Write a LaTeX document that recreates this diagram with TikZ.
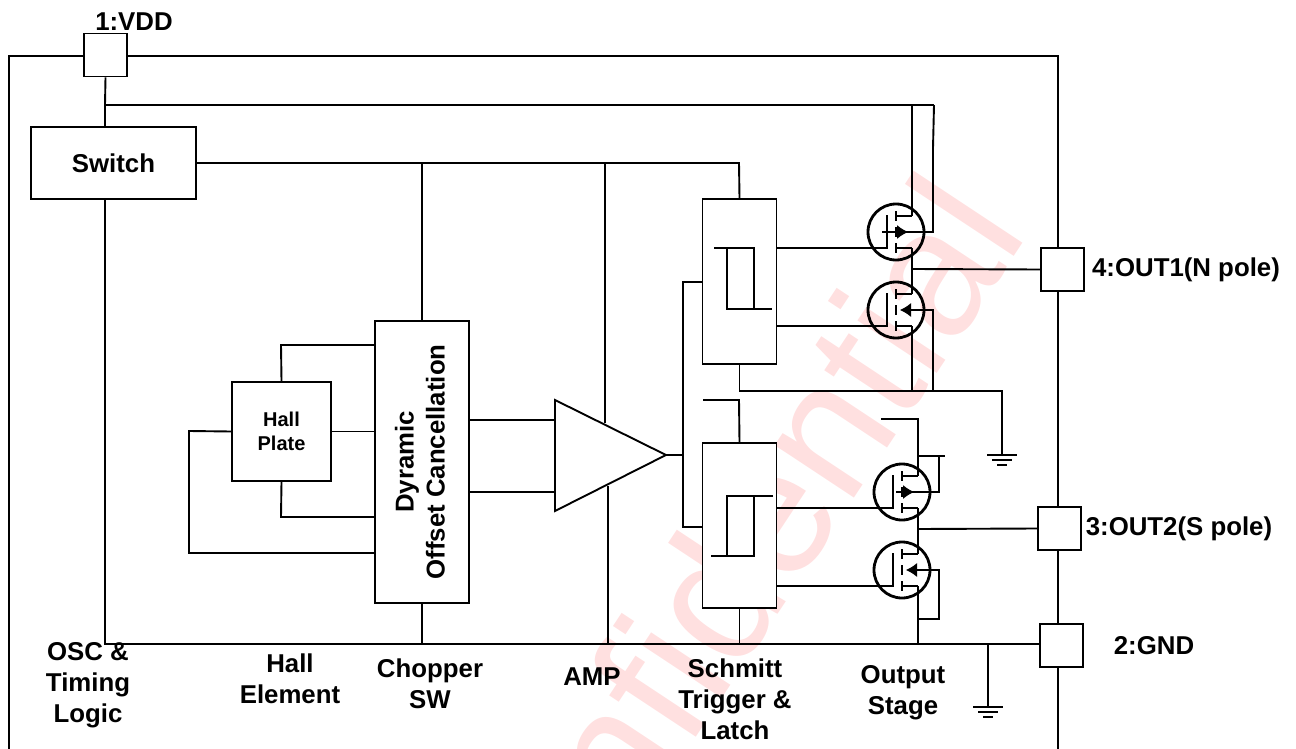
\documentclass[tikz,border=0pt]{standalone}
\usepackage{fontspec}
\setmainfont{Liberation Sans}
\usetikzlibrary{arrows.meta,calc,positioning}
\tikzset{
    blockbox/.style ={rectangle, draw, fill=white, inner sep=0pt, align=center, font=\bfseries\fontsize{25.8}{31}\selectfont},
    pin/.style = {rectangle, draw, fill=white, inner sep=0pt, minimum width=43pt, minimum height=43pt},
    lab/.style = {inner sep=0pt, align=center, font=\bfseries\fontsize{25.8}{31}\selectfont},
    fetbody/.style = {circle, draw, line width=2.8pt, inner sep=0pt, minimum size=56pt},
    fetline/.style = {line width=2.8pt},
    fettip/.style = {line width=1pt,-{Latex[length=11pt,width=14pt]}},
    gnd/.style = {line width=1.9pt}
}
% #1 name, #2 centre, #3 start of arrow, #4 tip of arrow
\newcommand{\fet}[4]{
  \node[fetbody] (#1) at (#2) {};
  \begin{scope}[shift={(#2)}]
    \coordinate (#1-d) at (16,-16);
    \coordinate (#1-s) at (16,16);
    \coordinate (#1-g) at (-36,16);
    \coordinate (#1-b) at (28,0);
    \draw[fetline] (#1-g) -- (-9,16) -- (-9,-17);
    \draw[fetline] (0,-21) -- (0,-11) (0,-5) -- (0,5) (0,11) -- (0,21);
    \draw[fetline] (#1-d) -- (0,-16) (#1-s) -- (0,16);
    \draw[fettip] (#3,0) -- (#4,0);
    \draw[fetline] (#3,0) -- (#1-b);
  \end{scope}
}
% ground symbol under a named coordinate
\newcommand{\gndsym}[1]{
  \draw[gnd] ($(#1)+(-15,0)$) -- ($(#1)+(15,0)$);
  \draw[gnd] ($(#1)+(-10,5)$) -- ($(#1)+(10,5)$);
  \draw[gnd] ($(#1)+(-5,10)$) -- ($(#1)+(5,10)$);
}

\begin{document}
\begin{tikzpicture}[x=1pt,y=-1pt,line width=1.9pt]
    \useasboundingbox (0,0) rectangle (1296,749);
    \clip (0,0) rectangle (1296,749);

    \node[rotate=56.5, text=red!12, font=\fontsize{180}{180}\selectfont, inner sep=0pt] (mark) at (714,594) {Confidential};

    % frame
    \coordinate (fa) at (9,749);
    \coordinate (fb) at (9,56);
    \coordinate (fc) at (1058,56);
    \coordinate (fd) at (1058,749);
    \draw (fa) -- (fb) -- (fc) -- (fd);

    % blocks
    \node[blockbox, minimum width=165pt, minimum height=72pt] (switch) at (113.5,163) {Switch};
    \node[blockbox, minimum width=99pt, minimum height=99pt, font=\bfseries\fontsize{20}{24}\selectfont] (hall) at (281.5,431.5) {Hall\\Plate};
    \node[blockbox, minimum width=94pt, minimum height=282pt] (dyn) at (422,462) {};
    \node[lab, rotate=90] (dyntext) at (420,462) {Dyramic\\Offset Cancellation};
    \node[blockbox, minimum width=74pt, minimum height=165pt] (upper) at (739.5,281.5) {};
    \node[blockbox, minimum width=74pt, minimum height=165pt] (lower) at (739.5,525.5) {};

    % pins
    \node[pin] (vdd) at (105.5,55) {};
    \node[pin] (out1) at (1062.5,269.5) {};
    \node[pin] (out2) at (1059.5,528.5) {};
    \node[pin] (gnd) at (1061.5,645.5) {};

    % amplifier
    \coordinate (ampa) at (555,400);
    \coordinate (ampb) at (555,511);
    \coordinate (ampc) at (666,455);
    \draw (ampa) -- (ampc) -- (ampb) -- cycle;

    % junctions
    \coordinate (vddj) at (105,105);
    \coordinate (supr) at (739,163);
    \coordinate (rail) at (105,644);
    \coordinate (ampj) at (683,455);
    \coordinate (gndj) at (1002,391);
    \coordinate (gnda) at (1002,455);
    \coordinate (gndb) at (988,707);

    % supply and rail
    \draw (vdd.south) -- (vddj) -- (vddj |- switch.north);
    \draw (vddj) -- (934,105);
    \draw (switch.south -| vddj) -- (rail) -- (gnd.west |- rail);
    \draw (switch.east) -- (supr) -- (upper.north);
    \draw (dyn.north) -- (dyn.north |- supr);
    \draw (dyn.south) -- (dyn.south |- rail);
    \draw (605,163) -- (605,423);
    \draw (608,486) -- (608,644);
    \draw (lower.south) -- (lower.south |- rail);
    \draw (upper.south) -- (upper.south |- gndj) -- (gndj) -- (gnda);
    \draw (gndb |- rail) -- (gndb);
    \gndsym{gnda}
    \gndsym{gndb}
    \draw (lower.north) -- (739,400) -- (703,400);

    % hall plate
    \draw (hall.north) -- (281,345) -- (dyn.west |- 281,345);
    \draw (hall.east) -- (dyn.west |- hall.east);
    \draw (hall.south) -- (281,517) -- (dyn.west |- 281,517);
    \draw (hall.west) -- (189,431) -- (189,553) -- (dyn.west |- 189,553);

    % amp
    \draw (dyn.east |- 0,420) -- (555,420);
    \draw (dyn.east |- 0,492) -- (555,492);
    \draw (ampc) -- (ampj);
    \draw (upper.west |- 0,282) -- (683,282) -- (683,527) -- (lower.west |- 0,527);

    % hysteresis
    \draw (714,248) -- (754,248) -- (754,309);
    \draw (727,248) -- (727,309) -- (772,309);
    \draw (773,496) -- (727,496) -- (727,556);
    \draw (754,496) -- (754,556) -- (711,556);

    % output stage
    \fet{qa}{896,232}{1}{12}
    \fet{qb}{896,310}{15}{4}
    \fet{qc}{902,492}{1}{12}
    \fet{qd}{902,570}{15}{4}
    \draw (qa-g) -- (upper.east |- qa-g);
    \draw (qb-g) -- (upper.east |- qb-g);
    \draw (qc-g) -- (lower.east |- qc-g);
    \draw (qd-g) -- (lower.east |- qd-g);
    \draw[line width=1.4pt] (882,232) -- (898,232);
    \draw[line width=1.4pt] (896,492) -- (904,492);

    \draw (912,105) -- (912,197);
    \draw[fetline] (912,197) -- (qa-d);
    \draw (934,105) -- (933,148);
    \draw[fetline] (933,148) -- (qa-b -| 933,0) -- (qa-b);
    \draw[fetline] (qa-s) -- (qb-d);
    \coordinate (outa) at (912,269);
    \draw (outa) -- (out1.west);
    \draw[fetline] (qb-s) -- (912,346);
    \draw (912,346) -- (912,391);
    \draw (qb-b) -- (933,310) -- (933,391);

    \draw (881,419) -- (918,419) -- (918,456);
    \draw[fetline] (918,456) -- (qc-d);
    \draw (918,456) -- (945,456);
    \draw (939,456) -- (939,492) -- (qc-b);
    \draw[fetline] (qc-s) -- (qd-d);
    \coordinate (outb) at (918,529);
    \draw (outb) -- (out2.west);
    \draw[fetline] (qd-s) -- (918,606);
    \draw (918,606) -- (918,644);
    \draw (qd-b) -- (939,570) -- (939,619) -- (918,619);

    % labels
    \node[lab] (vddlab) at (134,22) {1:VDD};
    \node[lab] (outalab) at (1186,270) {4:OUT1(N pole)};
    \node[lab] (outblab) at (1179,529) {3:OUT2(S pole)};
    \node[lab] (gndlab) at (1154,646) {2:GND};
    \node[lab] (osclab) at (88,685) {OSC \&\\Timing\\Logic};
    \node[lab] (halllab) at (290,679) {Hall\\Element};
    \node[lab] (choplab) at (430,684) {Chopper\\SW};
    \node[lab] (amplab) at (592,677) {AMP};
    \node[lab] (schlab) at (735,699) {Schmitt\\Trigger \&\\Latch};
    \node[lab] (outlab) at (903,693) {Output\\Stage};
\end{tikzpicture}
\end{document}
